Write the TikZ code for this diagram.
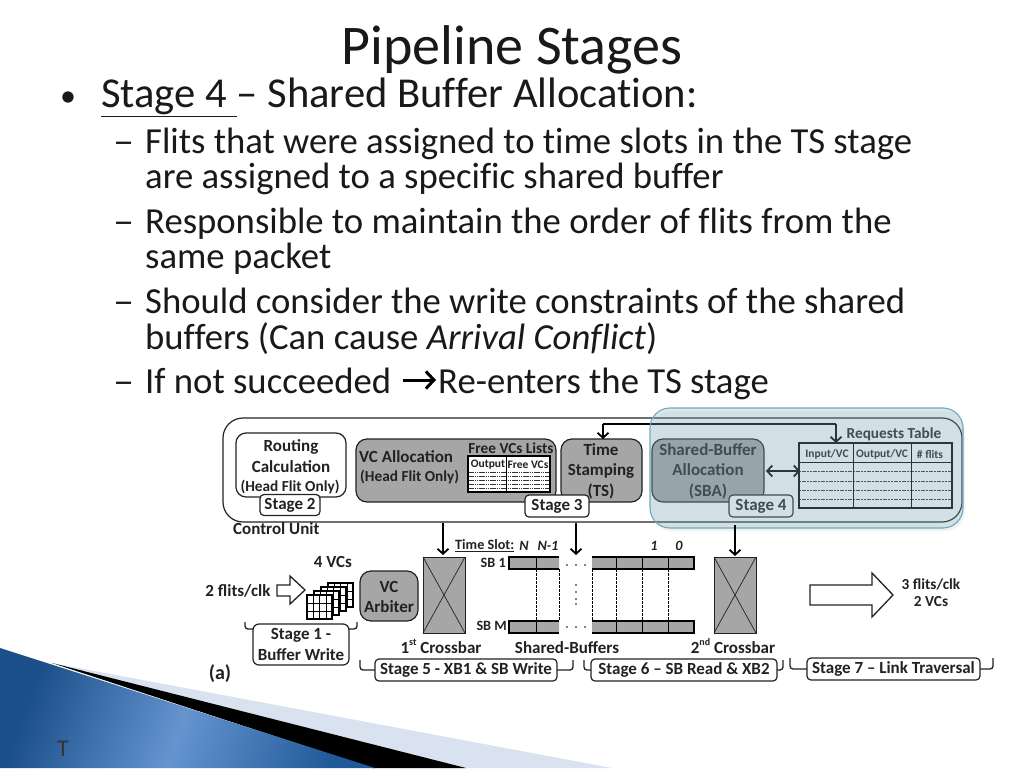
\documentclass[tikz,border=0pt]{standalone}
\usepackage{fontspec}
\setmainfont{Carlito}[Ligatures={NoCommon}]
\newfontfamily\dia[Ligatures=TeX]{Carlito}
\usetikzlibrary{arrows.meta}
\definecolor{gbox}{HTML}{A6A6A6}
\definecolor{ink}{HTML}{222222}
\definecolor{wedge}{HTML}{D9E2EF}
\definecolor{blueA}{HTML}{1B4F8A}
\definecolor{blueB}{HTML}{6594CF}
\definecolor{blueC}{HTML}{1F5A98}
\definecolor{ovfill}{HTML}{8AB6C6}
\definecolor{ovline}{HTML}{6FA8BC}
\newcommand{\ldash}{\scalebox{1.15}[1]{–}}
\newcommand{\supr}[1]{\raisebox{.42em}{\fontsize{10}{10}\selectfont #1}}
\tikzset{
 x=1pt,y=-1pt,
 txt/.style={anchor=base west,inner sep=0,font=\fontsize{36.7}{37}\selectfont,text=black!90},
 mainb/.style={anchor=base west,inner sep=0,font=\fontsize{42.6}{43}\selectfont,text=black!90},
 lab/.style={font=\dia\bfseries\fontsize{17}{20.5}\selectfont,text=ink,inner sep=0,align=center},
 small/.style={font=\dia\bfseries\fontsize{14.2}{15}\selectfont,text=ink,inner sep=0,align=center},
 mid/.style={font=\dia\bfseries\fontsize{15.3}{16}\selectfont,text=ink,inner sep=0,align=center},
 tiny/.style={font=\dia\bfseries\fontsize{11.5}{12}\selectfont,text=ink,inner sep=0,align=center},
 whitebox/.style={draw=ink,line width=1.2pt,rounded corners=4pt,fill=white,inner sep=0},
 graybox/.style={draw=ink,line width=1.2pt,rounded corners=11pt,fill=gbox},
 conn/.style={draw=black,line width=1.8pt,-{Straight Barb[length=5pt,width=11pt,line width=1.8pt]}},
 brace/.style={draw=ink,line width=1.3pt,rounded corners=3pt},
 dl/.style={draw=black,line width=.5pt,dash pattern=on 2.5pt off 1.5pt},
 xbar/.style={draw=ink,line width=.9pt,fill=gbox},
 barrow/.style={draw=ink,line width=1.3pt,fill=white,line join=miter},
}
\begin{document}
\begin{tikzpicture}
\useasboundingbox (0,0) rectangle (1024,768);
\fill[white] (0,0) rectangle (1024,768);
% corner decoration
\fill[wedge] (52,663) -- (612,768) -- (400,768) -- cycle;
\fill[black] (52,663) -- (466,768) -- (372,768) -- cycle;
\shade[left color=blueA,right color=blueC,middle color=blueB,shading angle=70]
  (0,648) -- (50,664) -- (375,768) -- (0,768) -- cycle;
\node[inner sep=0,font=\fontsize{24}{24}\selectfont,text=black!80] (tee) at (63,749) {T};
% text
\node[inner sep=0,anchor=base,font=\fontsize{56}{56}\selectfont,text=black!90] (title) at (512,64) {Pipeline Stages};
\node[mainb,font=\fontsize{32}{32}\selectfont] (b0) at (60,106) {•};
\node[mainb] (b1) at (101,107) {\underline{Stage 4 }– Shared Buffer Allocation:};
\node[txt] at (113,153) {\ldash};
\node[txt] (l1) at (145,153) {Flits that were assigned to time slots in the TS stage};
\node[txt] (l2) at (145,188) {are assigned to a specific shared buffer};
\node[txt] at (113,233) {\ldash};
\node[txt] (l3) at (145,233) {Responsible to maintain the order of flits from the};
\node[txt] (l4) at (145,268) {same packet};
\node[txt] at (113,313) {\ldash};
\node[txt] (l5) at (145,313) {Should consider the write constraints of the shared};
\node[txt] (l6) at (145,349) {buffers (Can cause \textit{Arrival Conflict})};
\node[txt] at (113,393) {\ldash};
\node[txt] (l7) at (145,393) {If not succeeded};
\node[txt] (l7b) at (438,393) {Re-enters the TS stage};
\coordinate (ar1) at (403,380);\coordinate (ar2) at (436,380);
\draw[line width=3pt,-{Straight Barb[length=8pt,width=17pt,line width=3pt]}] (ar1)--(ar2);
% control unit
\draw[draw=ink,line width=1.2pt,fill=white,rounded corners=20pt] (223,418) rectangle (962,522);
\coordinate (cuB1) at (443,523);\coordinate (cuB2) at (576,523);\coordinate (cuB3) at (735,525);
\node[lab,anchor=west] (cu) at (233,529) {Control Unit};
\draw[whitebox,rounded corners=10pt] (236,433) rectangle (346,497);
\node[lab] (rc) at (291,456) {Routing\\Calculation};
\node[mid] at (290,487) {(Head Flit Only)};
\node[whitebox,minimum width=60pt,minimum height=21pt,lab] (s2) at (290,505) {Stage 2};
\draw[graybox] (356,439) rectangle (556,502);
\node[lab,anchor=west] at (359,457) {VC Allocation};
\node[mid,anchor=west] at (360,477) {(Head Flit Only)};
\node[mid] at (511,448) {Free VCs Lists};
% free VCs table
\fill[white] (468,456) rectangle (550,492);
\foreach \yy in {472,476,480,484,488}{\draw[draw=black!80,line width=.4pt,dash pattern=on 1.5pt off .7pt] (468,\yy)--(550,\yy);}
\draw[draw=black,line width=1.2pt] (468,456) rectangle (550,492);
\draw[draw=black,line width=.8pt] (506,456)--(506,492);
\node[tiny] at (488,464.5) {Output};
\node[tiny] at (528,464.5) {Free VCs};
\draw[graybox] (561,439) rectangle (642,502);
\node[lab] at (601,471) {Time\\Stamping\\(TS)};
\node[whitebox,minimum width=64pt,minimum height=22pt,lab] (s3) at (557,506) {Stage 3};
% SBA
\draw[graybox] (652,439) rectangle (764,502);
\node[lab] (sba) at (708,471) {Shared-Buffer\\Allocation\\(SBA)};
\node[whitebox,minimum width=64pt,minimum height=22pt,lab] (s4) at (761,506) {Stage 4};
% Requests table
\node[mid] at (894,434) {Requests Table};
\foreach \yy in {471,481,490,499}{\draw[draw=black!80,line width=.4pt,dash pattern=on 2pt off .7pt] (799,\yy)--(952,\yy);}
\draw[draw=black,line width=1.2pt] (799,443) rectangle (952,508);
\draw[draw=black,line width=.8pt] (853,443)--(853,508) (911,443)--(911,508) (799,462)--(952,462);
\node[tiny] at (827,454.5) {Input/VC};
\node[tiny] at (882,454.5) {Output/VC};
\node[tiny] at (930,454.5) {\# flits};
\draw[conn] (836,424) -- (836,443);
\draw[conn] (603,424) -- (603,439);
\draw[draw=black,line width=1.8pt] (603,424) -- (836,424);
\draw[draw=black,line width=1.8pt,{Straight Barb[length=5pt,width=11pt,line width=1.8pt]}-{Straight Barb[length=5pt,width=11pt,line width=1.8pt]}] (766,471)--(800,471);
% overlay
\fill[black,opacity=.05,rounded corners=20pt] (651,411) rectangle (965,531);
\draw[draw=ovline,line width=1.1pt,fill=ovfill,fill opacity=.3,rounded corners=20pt] (650,408) rectangle (963,528);
% connectors
\draw[conn] (cuB1) -- (443,555);
\draw[conn] (cuB2) -- (576,555);
\draw[conn] (cuB3) -- (735,556);
% crossbars
\draw[xbar] (423,557) rectangle (465,633);
\draw[draw=ink,line width=.7pt] (423,557)--(465,633) (465,557)--(423,633);
\draw[xbar] (714,557) rectangle (756,633);
\draw[draw=ink,line width=.7pt] (714,557)--(756,633) (756,557)--(714,633);
% shared buffers
\foreach \xx in {536,559,592,616,642,668}{\draw[dl] (\xx,569)--(\xx,620);}
\fill[gbox] (509,558) rectangle (559,569) (509,621) rectangle (559,632) (592,558) rectangle (694,569) (592,621) rectangle (694,632);
\draw[draw=black,line width=1.6pt] (559,557)--(509,557)--(509,569)--(559,569) (559,621)--(509,621)--(509,633)--(559,633);
\draw[draw=black,line width=1.6pt] (592,557)--(694,557)--(694,569)--(592,569) (592,621)--(694,621)--(694,633)--(592,633);
\foreach \xx in {536,616,642,668}{\draw[draw=black,line width=.8pt] (\xx,557)--(\xx,569) (\xx,621)--(\xx,633);}
\foreach \xx in {567,576,585}{\fill[black] (\xx,565) circle (.8) (\xx,627) circle (.8);}
\foreach \yy in {585,592,599,604}{\fill[black] (576,\yy) circle (.8);}
\node[small,anchor=west] at (455,546) {\underline{Time Slot:}};
\foreach \xx/\tt in {524/N,548/N-1,654/1,679/0}{\node[small,font=\dia\bfseries\itshape\fontsize{14.2}{15}\selectfont] at (\xx,546) {\tt};}
\node[small,anchor=east] at (506,563) {SB 1};
\node[small,anchor=east] at (507,626) {SB M};
% input
\node[lab] at (333,562) {4 VCs};
\node[lab] at (238,591) {2 flits/clk};
\draw[barrow] (277,585)--(290,585)--(290,576)--(305,590)--(290,604)--(290,596)--(277,596)--cycle;
\foreach \dx/\dy in {21/-12,14/-8,7/-4,0/0}{
  \begin{scope}[shift={(\dx,\dy)}]
  \fill[white] (307,595) rectangle (332,619);
  \draw[draw=black,line width=1.1pt] (307,595) rectangle (332,619);
  \draw[draw=black,line width=.7pt] (307,603)--(332,603) (307,611)--(332,611) (313,595)--(313,619) (319.5,595)--(319.5,619) (326,595)--(326,619);
  \end{scope}}
\draw[graybox] (360,571) rectangle (418,621);
\node[lab] (arb) at (389,597) {VC\\Arbiter};
% stages
\draw[brace] (245,622)--(245,629)--(253,629);
\draw[brace] (357,622)--(357,629)--(349,629);
\node[whitebox,lab,minimum width=96pt,minimum height=41pt,rounded corners=6pt] (s1) at (301,644.5) {Stage 1 -\\Buffer Write};
\node[lab,anchor=base] at (441,653) {1\supr{st} Crossbar};
\node[lab,anchor=base] at (567,653) {Shared-Buffers};
\node[lab,anchor=base] at (733,653) {2\supr{nd} Crossbar};
\draw[brace] (360,660)--(360,670)--(375,670);
\draw[brace] (573,660)--(573,670)--(557,670);
\node[whitebox,lab,minimum width=182pt,minimum height=22pt] (s5) at (466,670) {Stage 5 - XB1 \& SB Write};
\draw[brace] (584,660)--(584,670)--(591,670);
\draw[brace] (783,660)--(783,670)--(777,670);
\node[whitebox,lab,minimum width=186pt,minimum height=22pt] (s6) at (684,670) {Stage 6 – SB Read \& XB2};
\draw[brace] (790,658)--(790,669)--(807,669);
\draw[brace] (993,658)--(993,669)--(980,669);
\node[whitebox,lab,minimum width=173pt,minimum height=22pt] (s7) at (893.5,669) {Stage 7 – Link Traversal};
\draw[barrow] (810,585)--(872,585)--(872,573)--(893,595)--(872,617)--(872,605)--(810,605)--cycle;
\node[mid] at (931,584) {3 flits/clk};
\node[mid] at (931,602) {2 VCs};
\node[inner sep=0,font=\dia\bfseries\fontsize{20}{20}\selectfont,text=ink] at (220,674) {(a)};
\end{tikzpicture}
\end{document}
